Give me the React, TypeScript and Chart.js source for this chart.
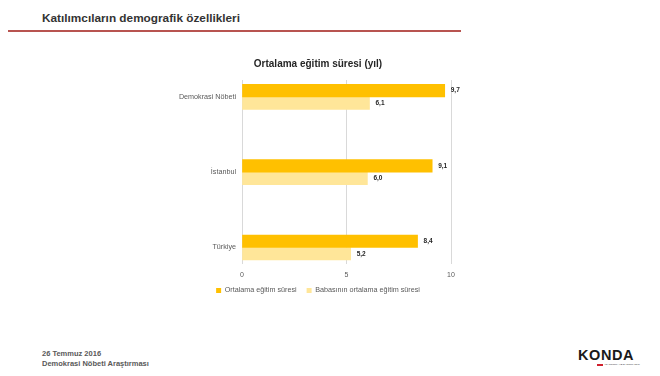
import React, { useEffect, useRef } from "react";
import { Chart, registerables } from "chart.js";

Chart.register(...registerables);

const categories = ["Demokrasi Nöbeti", "İstanbul", "Türkiye"];
const seriesNames = ["Ortalama eğitim süresi", "Babasının ortalama eğitim süresi"];
const ownYears = [9.7, 9.1, 8.4];
const fatherYears = [6.1, 6.0, 5.2];
const xTicks = [0, 5, 10];

const FONT = "'Liberation Sans', Arial, sans-serif";

export default function App() {
  const ref = useRef<HTMLCanvasElement>(null);

  useEffect(() => {
    document.body.style.margin = "0";
    const labelPlugin = {
      id: "valueLabels",
      afterDatasetsDraw(chart: any) {
        const ctx = chart.ctx;
        ctx.save();
        ctx.font = `bold 6.5px ${FONT}`;
        ctx.fillStyle = "#262626";
        ctx.textBaseline = "middle";
        ctx.textAlign = "left";
        chart.data.datasets.forEach((ds: any, di: number) => {
          const meta = chart.getDatasetMeta(di);
          meta.data.forEach((bar: any, i: number) => {
            const v = ds.data[i] as number;
            ctx.fillText(v.toFixed(1).replace(".", ","), bar.x + 6, bar.y);
          });
        });
        ctx.restore();
      },
    };
    const legendShift = {
      id: "legendShift",
      afterLayout(chart: any) {
        const lg = chart.legend;
        if (lg) {
          lg.top -= 8;
          lg.bottom -= 8;
        }
      },
    };

    const chart = new Chart(ref.current as HTMLCanvasElement, {
      type: "bar",
      data: {
        labels: categories,
        datasets: [
          { label: seriesNames[0], data: ownYears, backgroundColor: "#FFC000", barThickness: 12.5 },
          { label: seriesNames[1], data: fatherYears, backgroundColor: "#FFE699", barThickness: 12.5 },
        ],
      },
      options: {
        indexAxis: "y",
        animation: false,
        responsive: false,
        layout: { padding: 0 },
        font: { family: FONT },
        scales: {
          x: {
            min: 0,
            max: 10,
            afterBuildTicks(s: any) {
              s.ticks = xTicks.map((v) => ({ value: v }));
            },
            grid: { color: "#d9d9d9", drawTicks: false },
            border: { display: false },
            ticks: { padding: 6, color: "#595959", font: { size: 7, family: FONT } },
          },
          y: {
            afterBuildTicks(s: any) {
              s._startValue = -0.225;
              s._valueRange = 2.45;
            },
            afterFit(s: any) {
              s.width = 82;
            },
            grid: { display: false, drawTicks: false },
            border: { display: false },
            ticks: { padding: 6, color: "#595959", font: { size: 7.2, family: FONT } },
          },
          yRight: {
            type: "category",
            position: "right",
            labels: categories,
            grid: { display: false, drawTicks: false },
            border: { display: false },
            ticks: { display: false },
            afterFit(s: any) {
              s.width = 25;
            },
          },
        },
        plugins: {
          title: {
            display: true,
            text: "Ortalama eğitim süresi (yıl)",
            color: "#262626",
            font: { size: 10, weight: "bold", family: FONT },
            padding: { top: 8, bottom: 10 },
          },
          legend: {
            position: "bottom",
            labels: {
              boxWidth: 5,
              boxHeight: 5,
              color: "#595959",
              font: { size: 7.2, family: FONT },
              padding: 10,
            },
          },
          tooltip: { enabled: false },
        },
      } as any,
      plugins: [labelPlugin, legendShift],
    });
    return () => chart.destroy();
  }, []);

  return (
    <div style={{ position: "relative", width: 660, height: 376, background: "#fff", fontFamily: FONT, overflow: "hidden" }}>
      <div style={{ position: "absolute", left: 42, top: 11, fontSize: 11.8, fontWeight: "bold", color: "#333333", whiteSpace: "nowrap" }}>
        Katılımcıların demografik özellikleri
      </div>
      <div style={{ position: "absolute", left: 8, top: 30, width: 453, height: 2, background: "#b85450" }} />
      <canvas ref={ref} width={316} height={262} style={{ position: "absolute", left: 160, top: 50, width: 316, height: 262 }} />
      <div style={{ position: "absolute", left: 42, top: 349, fontSize: 7.5, fontWeight: "bold", color: "#595959", lineHeight: "10px", whiteSpace: "nowrap" }}>
        <div>26 Temmuz 2016</div>
        <div>Demokrasi Nöbeti Araştırması</div>
      </div>
      <div style={{ position: "absolute", left: 578, top: 347, width: 62, whiteSpace: "nowrap" }}>
        <div style={{ fontSize: 14.5, color: "#1a1a1a", letterSpacing: 0.6, lineHeight: "16px", fontWeight: "bold" }}>KONDA</div>
        <div style={{ display: "flex", alignItems: "center", marginTop: 0, marginLeft: 19 }}>
          <div style={{ width: 13, height: 2, background: "#d0202e" }} />
          <div style={{ fontSize: 2.5, color: "#333", marginLeft: 1, lineHeight: "3px" }}>ARAŞTIRMA VE DANIŞMANLIK</div>
        </div>
      </div>
    </div>
  );
}
